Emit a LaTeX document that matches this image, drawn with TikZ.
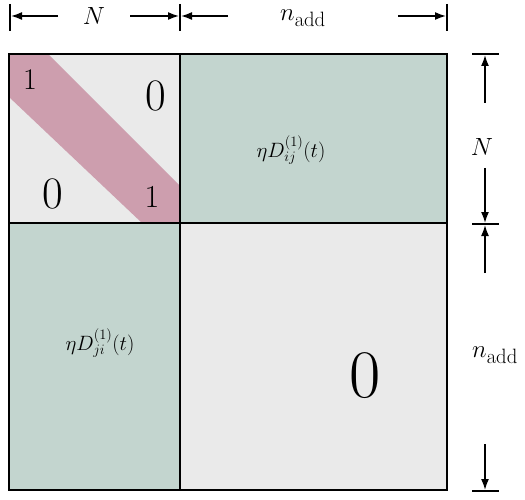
\documentclass[tikz,border=0pt]{standalone}
\usetikzlibrary{arrows.meta}
\definecolor{cgrey}{RGB}{234,234,234}
\definecolor{cgreen}{RGB}{195,213,207}
\definecolor{cpink}{RGB}{205,158,174}
\begin{document}
\begin{tikzpicture}[x=1pt,y=-1pt,
  box/.style={draw=black,line width=1.8pt},
  dim/.style={line width=1.6pt,-{Latex[length=11pt,width=8pt]}},
  tick/.style={line width=1.8pt},
  lbl/.style={inner sep=0pt,font=\fontsize{29}{33}\selectfont}]
\useasboundingbox (0,0) rectangle (525,500);
% fills
\fill[cgrey] (9,54) rectangle (180,223);
\fill[cgreen] (180,54) rectangle (447,223);
\fill[cgreen] (9,223) rectangle (180,490);
\fill[cgrey] (180,223) rectangle (447,490);
\fill[cpink] (9,54) -- (48,54) -- (180,186) -- (180,223) -- (142,223) -- (9,97) -- cycle;
% boxes
\draw[box] (9,54) rectangle (180,223);
\draw[box] (180,54) rectangle (447,223);
\draw[box] (9,223) rectangle (180,490);
\draw[box] (180,223) rectangle (447,490);
% labels in matrix
\node[inner sep=0pt,font=\fontsize{30}{34}\selectfont] (one1) at (30,80) {1};
\node[inner sep=0pt,font=\fontsize{45}{50}\selectfont] (zero1) at (156,96) {0};
\node[inner sep=0pt,font=\fontsize{45}{50}\selectfont] (zero2) at (53,194) {0};
\node[inner sep=0pt,font=\fontsize{32}{36}\selectfont] (one2) at (152,197) {1};
\node[inner sep=0pt,font=\fontsize{22}{26}\selectfont] (Dij) at (291,150) {$\eta D^{(1)}_{ij}(t)$};
\node[inner sep=0pt,font=\fontsize{22}{26}\selectfont] (Dji) at (100,343) {$\eta D^{(1)}_{ji}(t)$};
\node[inner sep=0pt,font=\fontsize{68}{72}\selectfont] (zero3) at (365,376) {0};
% top dimension
\coordinate (t1a) at (10,4); \coordinate (t1b) at (10,31);
\coordinate (t2a) at (180,4); \coordinate (t2b) at (180,31);
\coordinate (t3a) at (447,4); \coordinate (t3b) at (447,31);
\draw[tick] (t1a) -- (t1b);
\draw[tick] (t2a) -- (t2b);
\draw[tick] (t3a) -- (t3b);
\node[lbl] (Ntop) at (94,16) {$N$};
\node[lbl] (ntop) at (303,18) {$n_{\mathrm{add}}$};
\coordinate (a1s) at (58,16); \coordinate (a1e) at (11,16);
\coordinate (a2s) at (130,16); \coordinate (a2e) at (179,16);
\coordinate (a3s) at (228,16); \coordinate (a3e) at (181,16);
\coordinate (a4s) at (398,16); \coordinate (a4e) at (446,16);
\draw[dim] (a1s) -- (a1e);
\draw[dim] (a2s) -- (a2e);
\draw[dim] (a3s) -- (a3e);
\draw[dim] (a4s) -- (a4e);
% right dimension
\coordinate (r1a) at (472,54); \coordinate (r1b) at (499,54);
\coordinate (r2a) at (472,224); \coordinate (r2b) at (499,224);
\coordinate (r3a) at (472,491); \coordinate (r3b) at (499,491);
\draw[tick] (r1a) -- (r1b);
\draw[tick] (r2a) -- (r2b);
\draw[tick] (r3a) -- (r3b);
\node[lbl] (Nright) at (482,147) {$N$};
\node[lbl] (nright) at (495,355) {$n_{\mathrm{add}}$};
\coordinate (b1s) at (485,103); \coordinate (b1e) at (485,55);
\coordinate (b2s) at (485,168); \coordinate (b2e) at (485,223);
\coordinate (b3s) at (485,273); \coordinate (b3e) at (485,225);
\coordinate (b4s) at (485,444); \coordinate (b4e) at (485,490);
\draw[dim] (b1s) -- (b1e);
\draw[dim] (b2s) -- (b2e);
\draw[dim] (b3s) -- (b3e);
\draw[dim] (b4s) -- (b4e);
\end{tikzpicture}
\end{document}
